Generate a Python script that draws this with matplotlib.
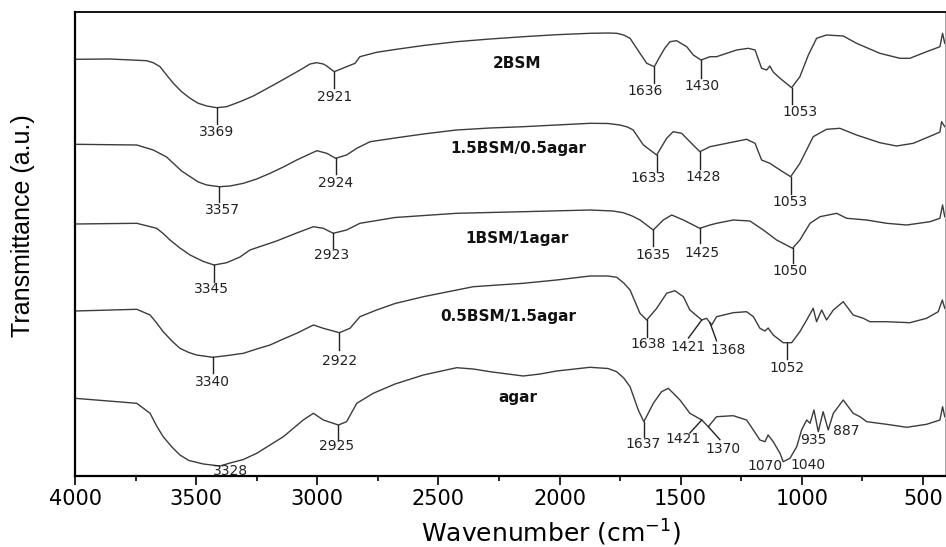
import numpy as np
import matplotlib
matplotlib.use('Agg')
import matplotlib.pyplot as plt
from matplotlib.ticker import MultipleLocator, NullLocator

# --- spectra: wavenumber (cm-1) and transmittance (a.u., stacked) ---
wn_2bsm = [4000, 3856, 3704, 3677, 3649, 3622, 3594, 3560, 3525, 3491, 3456, 3415, 3374, 3319,
           3264, 3168, 3071, 3030, 3002, 2975, 2961, 2930, 2879, 2844, 2824, 2755, 2679, 2562,
           2425, 2287, 2150, 2012, 1874, 1800, 1764, 1735, 1709, 1668, 1640, 1609, 1586, 1565,
           1544, 1517, 1475, 1448, 1416, 1379, 1352, 1310, 1269, 1221, 1193, 1166, 1145, 1132,
           1118, 1090, 1042, 1008, 973, 939, 898, 829, 774, 678, 595, 554, 485, 430, 419, 410]
t_2bsm = [416.7, 417, 415.3, 413.3, 409.3, 401, 392.7, 384.3, 377.7, 372.7, 370, 368.3, 369.3, 374.3,
          380, 392.7, 406, 412, 413.3, 412, 410, 404.3, 409.3, 412.7, 419.3, 423.7, 426.5, 430.5,
          434.3, 437, 439.3, 441.3, 442.7, 443, 442.7, 441, 437.7, 422.7, 412.7, 409.3, 419.3, 428,
          434.3, 435.3, 429.3, 421, 416, 419.3, 419.3, 422.7, 426, 427.7, 426, 407.7, 406, 410,
          404, 397.7, 388.3, 399.3, 421, 437.7, 441, 440, 432.7, 422.7, 417.7, 417.7, 424.3, 429.3,
          442.7, 432.7]

wn_15bsm = [4000, 3745, 3677, 3622, 3560, 3491, 3456, 3404, 3360, 3305, 3250, 3195, 3140, 3085,
            3002, 2961, 2924, 2879, 2837, 2782, 2679, 2562, 2425, 2287, 2150, 2012, 1874, 1800,
            1751, 1720, 1696, 1654, 1599, 1558, 1531, 1496, 1462, 1421, 1379, 1310, 1228, 1193,
            1166, 1132, 1090, 1046, 1008, 953, 898, 843, 774, 678, 609, 540, 458, 430, 423, 410]
t_15bsm = [331.7, 331, 326, 319, 305, 294, 291, 289.3, 290, 292.7, 297, 302.7, 309, 316,
           325.3, 322.7, 317.7, 321, 327.7, 334.3, 338, 342, 346, 348, 349.3, 351, 352.7, 352.5,
           351, 349, 346, 331, 321, 337.7, 344.3, 342.7, 334.3, 324.3, 329.3, 332.7, 336.7, 332.7,
           316, 312.7, 306, 299.3, 312.7, 339.3, 346.7, 347.7, 341, 333.3, 330, 332.7, 341, 344,
           354.3, 349.3]

wn_1bsm = [4000, 3745, 3663, 3636, 3608, 3567, 3525, 3470, 3426, 3374, 3319, 3278, 3168, 3085,
           3016, 2975, 2934, 2879, 2824, 2679, 2425, 2150, 1874, 1780, 1737, 1700, 1668, 1613,
           1572, 1537, 1489, 1421, 1379, 1352, 1283, 1214, 1159, 1104, 1038, 1008, 966, 925,
           856, 815, 732, 650, 567, 471, 430, 419, 410]
t_1bsm = [252, 252.7, 247.7, 242.5, 236, 228, 221, 214.5, 211, 213.3, 219, 226, 235, 243,
          249.3, 247.7, 242.7, 246, 252.7, 258.5, 262.7, 264.3, 266, 265, 263.3, 260, 256, 246,
          256, 261, 256, 247.7, 251, 252.7, 256, 255, 246, 236, 227.7, 236, 252.7, 259.3,
          262.7, 257.7, 256, 252.7, 251, 254.3, 257.7, 271, 259.3]

wn_05bsm = [4000, 3745, 3690, 3663, 3636, 3600, 3567, 3530, 3498, 3432, 3370, 3305, 3250, 3195,
            3140, 3085, 3016, 2975, 2909, 2865, 2824, 2755, 2679, 2562, 2356, 2150, 2012, 1874,
            1800, 1764, 1735, 1709, 1668, 1640, 1599, 1558, 1524, 1489, 1462, 1413, 1393, 1372,
            1352, 1283, 1228, 1200, 1173, 1152, 1139, 1118, 1077, 1042, 1008, 980, 953, 939,
            918, 898, 870, 829, 788, 746, 719, 650, 554, 485, 437, 420, 410]
t_05bsm = [165, 166.7, 161, 153, 144.3, 135, 127.7, 123.5, 121, 118.7, 120.5, 122.7, 127, 131,
           137, 142.7, 151, 147.7, 143.3, 147.7, 159.3, 166, 172.5, 179.3, 189.3, 192.7, 196, 200,
           200, 198.7, 193, 186, 162.7, 156, 167.7, 182.7, 185.3, 179.3, 166, 156, 157.7, 151,
           159.3, 163.3, 164.3, 159.3, 147.7, 145, 148, 141, 133.3, 133.3, 144.3, 156, 167.7, 154.3,
           166, 156, 166, 174.3, 161, 157.7, 154.3, 154.3, 153.3, 157.7, 164.3, 176, 167.7]

wn_agar = [4000, 3745, 3690, 3663, 3636, 3600, 3567, 3530, 3470, 3402, 3360, 3305, 3250, 3195,
           3140, 3058, 3016, 2975, 2913, 2879, 2837, 2769, 2679, 2562, 2425, 2356, 2287, 2150,
           2080, 2012, 1874, 1800, 1764, 1735, 1709, 1675, 1652, 1613, 1579, 1551, 1503, 1462,
           1413, 1386, 1352, 1283, 1228, 1200, 1173, 1152, 1139, 1118, 1090, 1077, 1049, 1021,
           1001, 980, 966, 950, 932, 912, 891, 870, 829, 788, 760, 732, 650, 567, 485, 430,
           419, 410]
t_agar = [77.7, 72.7, 62.7, 50, 39.3, 29, 21, 15.5, 12, 10, 13, 16.5, 22.7, 31,
          39.3, 56, 62.7, 56, 51, 54.3, 72.7, 82.7, 92, 101, 108.3, 107, 104.3, 100,
          102, 105, 108.7, 107.5, 104.3, 98, 89.3, 66, 54.3, 72.7, 84.3, 87.7, 76, 62.7,
          56, 49.3, 59.3, 60.3, 56, 46, 36, 34.3, 41, 34.3, 22.7, 14.3, 17.7, 29.3,
          46, 56, 52.7, 66, 44.3, 64.3, 46, 62.7, 76, 62.7, 59.3, 54.3, 51.7, 48.7, 51.7, 56,
          69.3, 59.3]

curve_names = ['2BSM', '1.5BSM/0.5agar', '1BSM/1agar', '0.5BSM/1.5agar', 'agar']

# peak positions (cm-1, as drawn) and the values printed next to them
peaks_2bsm = [3415, 2930, 1609, 1416, 1042]
labels_2bsm = ['3369', '2921', '1636', '1430', '1053']
peaks_15bsm = [3404, 2924, 1599, 1421, 1046]
labels_15bsm = ['3357', '2924', '1633', '1428', '1053']
peaks_1bsm = [3426, 2934, 1613, 1421, 1038]
labels_1bsm = ['3345', '2923', '1635', '1425', '1050']
peaks_05bsm = [3432, 2909, 1640, 1413, 1379, 1060]
labels_05bsm = ['3340', '2922', '1638', '1421', '1368', '1052']
peaks_agar = [3402, 2913, 1652, 1413, 1386, 1077, 1049, 932, 891]
labels_agar = ['3328', '2925', '1637', '1421', '1370', '1070', '1040', '935', '887']

# --- layout ---
# per label: (tick dx, tick length, label dx, label drop below tick end); tick length 0 = no tick
DEFAULT_LAYOUT = (0, 16, 0, 9)
LAYOUT = {
    (0, '3369'): (0, 16, 0, 8), (0, '1636'): (0, 16, 39, 8), (0, '1430'): (0, 18, -3, 8),
    (0, '1053'): (0, 16, -34, 8),
    (1, '3357'): (0, 15, -11, 8), (1, '1633'): (0, 17, 35, 6), (1, '1428'): (0, 17, -14, 8),
    (1, '1053'): (0, 17, 3, 8),
    (2, '3345'): (0, 17, 10, 7), (2, '2923'): (0, 15, 7, 7), (2, '1425'): (0, 15, -8, 10),
    (2, '1050'): (0, 15, 11, 8),
    (3, '2922'): (0, 17, 0, 11), (3, '1638'): (0, 17, -6, 7),
    (3, '1421'): (55, 18, 1, 9), (3, '1368'): (-27, 18, -48, 9),
    (4, '3328'): (0, 0, -42, 5), (4, '2925'): (0, 15, 7, 6), (4, '1637'): (0, 15, 3, 7),
    (4, '1421'): (49, 13, 27, 6), (4, '1370'): (-48, 13, -14, 9),
    (4, '1070'): (0, 0, 75, 4), (4, '1040'): (0, 0, -76, 7),
    (4, '935'): (0, 0, 21, 8), (4, '887'): (0, 0, -76, 1),
}
NAME_POS = [(2177, 412.7), (2170, 327.7), (2177, 237.7), (2212, 159.3), (2170, 78.7)]

LINE_COLOR = '#3c3c3c'

spectra = [(wn_2bsm, t_2bsm), (wn_15bsm, t_15bsm), (wn_1bsm, t_1bsm),
           (wn_05bsm, t_05bsm), (wn_agar, t_agar)]
peak_sets = [(peaks_2bsm, labels_2bsm), (peaks_15bsm, labels_15bsm), (peaks_1bsm, labels_1bsm),
             (peaks_05bsm, labels_05bsm), (peaks_agar, labels_agar)]

fig = plt.figure(figsize=(9.46, 5.47), dpi=100)
ax = fig.add_axes([75 / 946, 71 / 547, 870 / 946, 464 / 547])

for i, (wn, t) in enumerate(spectra):
    ax.plot(wn, t, color=LINE_COLOR, lw=1.0, solid_joinstyle='round')
    x_name, y_name = NAME_POS[i]
    ax.text(x_name, y_name, curve_names[i], fontsize=11, fontweight='bold',
            ha='center', va='center', color='#111111')

    xs = np.array(wn[::-1], dtype=float)
    ys = np.array(t[::-1], dtype=float)
    for pos, lab in zip(*peak_sets[i]):
        tdx, tlen, ldx, ldrop = LAYOUT.get((i, lab), DEFAULT_LAYOUT)
        y0 = np.interp(pos, xs, ys)
        x1, y1 = pos + tdx, y0 - tlen
        if tlen > 0:
            ax.plot([pos, x1], [y0, y1], color='#222222', lw=1.0)
        ax.text(x1 + ldx, y1 - ldrop, lab, fontsize=10, ha='center', va='center',
                color='#222222')

ax.set_xlim(4000, 409)
ax.set_ylim(0, 464)
ax.xaxis.set_major_locator(MultipleLocator(500))
ax.xaxis.set_minor_locator(MultipleLocator(250))
ax.yaxis.set_major_locator(NullLocator())
ax.tick_params(axis='x', which='major', direction='out', length=6.5, width=1.2,
               labelsize=15, pad=3)
ax.tick_params(axis='x', which='minor', direction='out', length=3.5, width=1.2)

for side in ['left', 'bottom']:
    ax.spines[side].set_linewidth(1.6)
ax.spines['top'].set_linewidth(1.3)
ax.spines['right'].set_linewidth(0.6)
ax.spines['right'].set_color('#999999')

fig.text(551 / 946, 1 - 533 / 547, r'Wavenumber (cm$^{\mathregular{-1}}$)', fontsize=18,
         ha='center', va='center')
fig.text(23 / 946, 1 - 226 / 547, 'Transmittance (a.u.)', fontsize=18, rotation=90,
         ha='center', va='center', family='Liberation Sans')

fig.savefig('out.png', dpi=100)
